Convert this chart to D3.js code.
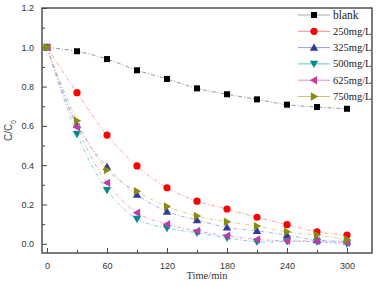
<!DOCTYPE html>
<html>
<head>
<meta charset="utf-8">
<script src="https://cdn.jsdelivr.net/npm/d3@7"></script>
<style>
  body { margin: 0; background: #fff; }
  .tick text { font-family: "Liberation Sans", Arial, sans-serif; font-size: 9px; fill: #333; }
  .legend text { font-family: "Liberation Serif", "Times New Roman", serif; font-size: 10.5px; fill: #222; }
</style>
</head>
<body>
<svg id="chart" width="378" height="286"></svg>
<script>
var times = [0, 30, 60, 90, 120, 150, 180, 210, 240, 270, 300];
var seriesNames = ["blank", "250mg/L", "325mg/L", "500mg/L", "625mg/L", "750mg/L"];
var blank = [1.0, 0.98, 0.94, 0.883, 0.839, 0.791, 0.761, 0.735, 0.708, 0.696, 0.687];
var c250 = [1.0, 0.769, 0.553, 0.396, 0.285, 0.217, 0.177, 0.135, 0.097, 0.061, 0.044];
var c325 = [1.0, 0.605, 0.392, 0.25, 0.164, 0.121, 0.083, 0.066, 0.044, 0.019, 0.012];
var c500 = [1.0, 0.558, 0.273, 0.126, 0.08, 0.056, 0.031, 0.01, 0.012, 0.01, 0.0];
var c625 = [1.0, 0.593, 0.31, 0.158, 0.099, 0.065, 0.041, 0.022, 0.015, 0.014, 0.005];
var c750 = [1.0, 0.626, 0.375, 0.267, 0.19, 0.141, 0.112, 0.09, 0.061, 0.044, 0.022];
var xTicks = [0, 60, 120, 180, 240, 300];
var yTicks = [0.0, 0.2, 0.4, 0.6, 0.8, 1.0, 1.2];

var allValues = [blank, c250, c325, c500, c625, c750];
var markColor = ["#000000", "#ff0000", "#2e3a9e", "#008c8a", "#c43aa8", "#8a8a12"];
var lineColor = ["#7a7a7a", "#ff8a8a", "#9a9ae8", "#66c8c8", "#e88ad8", "#c8c870"];
var symbols = ["square", "circle", "up", "down", "left", "right"];

var svg = d3.select("#chart"),
    margin = {top: 8, right: 6, bottom: 33, left: 42},
    width = +svg.attr("width") - margin.left - margin.right,
    height = +svg.attr("height") - margin.top - margin.bottom;

var x = d3.scaleLinear().domain([-5, 325]).range([0, width]);
var y = d3.scaleLinear().domain([-0.047, 1.2]).range([height, 0]);

var g = svg.append("g")
  .attr("transform", "translate(" + margin.left + "," + margin.top + ")");

// minor ticks
g.append("g")
    .attr("transform", "translate(0," + height + ")")
    .call(d3.axisBottom(x).tickValues([30, 90, 150, 210, 270]).tickSize(-3).tickFormat(""))
    .call(function(a) { a.select(".domain").remove(); a.selectAll("line").attr("stroke", "#444"); });
g.append("g")
    .call(d3.axisLeft(y).tickValues([0.1, 0.3, 0.5, 0.7, 0.9, 1.1]).tickSize(-3).tickFormat(""))
    .call(function(a) { a.select(".domain").remove(); a.selectAll("line").attr("stroke", "#444"); });

// major ticks
g.append("g")
    .attr("transform", "translate(0," + height + ")")
    .call(d3.axisBottom(x).tickValues(xTicks).tickSize(-5).tickPadding(10))
    .call(function(a) { a.select(".domain").remove(); a.selectAll("line").attr("stroke", "#444"); });
g.append("g")
    .call(d3.axisLeft(y).tickValues(yTicks).tickSize(-5).tickPadding(8).tickFormat(d3.format(".1f")))
    .call(function(a) { a.select(".domain").remove(); a.selectAll("line").attr("stroke", "#444"); });

var line = d3.line()
    .x(function(d) { return x(d[0]); })
    .y(function(d) { return y(d[1]); })
    .curve(d3.curveCatmullRom);

function drawMarker(sel, k, cx, cy) {
  var s = symbols[k], c = markColor[k];
  if (s === "square") {
    sel.append("rect").attr("x", cx - 3).attr("y", cy - 3).attr("width", 6).attr("height", 6).attr("fill", c);
  } else if (s === "circle") {
    sel.append("circle").attr("cx", cx).attr("cy", cy).attr("r", 3.6).attr("fill", c);
  } else {
    var r = 4.2, pts;
    if (s === "up") pts = [[0, -r], [r, r * 0.75], [-r, r * 0.75]];
    if (s === "down") pts = [[0, r], [r, -r * 0.75], [-r, -r * 0.75]];
    if (s === "left") pts = [[-r, 0], [r * 0.75, -r], [r * 0.75, r]];
    if (s === "right") pts = [[r, 0], [-r * 0.75, -r], [-r * 0.75, r]];
    sel.append("path")
      .attr("d", "M" + pts.map(function(p) { return (cx + p[0]) + "," + (cy + p[1]); }).join("L") + "Z")
      .attr("fill", c);
  }
}

allValues.forEach(function(vals, k) {
  var pts = times.map(function(t, i) { return [t, vals[i]]; });
  g.append("path")
    .datum(pts)
    .attr("fill", "none")
    .attr("stroke", lineColor[k])
    .attr("stroke-width", 0.8)
    .attr("stroke-dasharray", "4,2,1,2")
    .attr("d", line);
  var mg = g.append("g");
  pts.forEach(function(p) { drawMarker(mg, k, x(p[0]), y(p[1])); });
});

// frame
g.append("rect")
  .attr("width", width).attr("height", height)
  .attr("fill", "none").attr("stroke", "#444").attr("stroke-width", 1.4);

// legend
var legend = g.append("g").attr("class", "legend");
seriesNames.forEach(function(name, k) {
  var ly = 7 + k * 16.3;
  legend.append("line")
    .attr("x1", 256).attr("x2", 288).attr("y1", ly).attr("y2", ly)
    .attr("stroke", k === 0 ? "#aaa" : lineColor[k]).attr("stroke-width", 1);
  drawMarker(legend, k, 272, ly);
  legend.append("text")
    .attr("x", 291).attr("y", ly + 3.5)
    .style("font-size", k === 0 ? "11.5px" : "10.5px")
    .text(name);
});

// axis labels
svg.append("text")
  .attr("x", margin.left + width / 2).attr("y", 279)
  .attr("text-anchor", "middle")
  .style("font-family", "'Liberation Serif', 'Times New Roman', serif")
  .style("font-size", "10.5px").style("fill", "#333")
  .text("Time/min");

var yl = svg.append("text")
  .attr("transform", "translate(12," + (margin.top + height / 2) + ") rotate(-90)")
  .attr("text-anchor", "middle")
  .style("font-family", "'Liberation Sans', Arial, sans-serif")
  .style("font-size", "10px").style("fill", "#444");
yl.append("tspan").text("C/C");
yl.append("tspan").attr("baseline-shift", "sub").style("font-size", "6.5px").text("0");
</script>
</body>
</html>
